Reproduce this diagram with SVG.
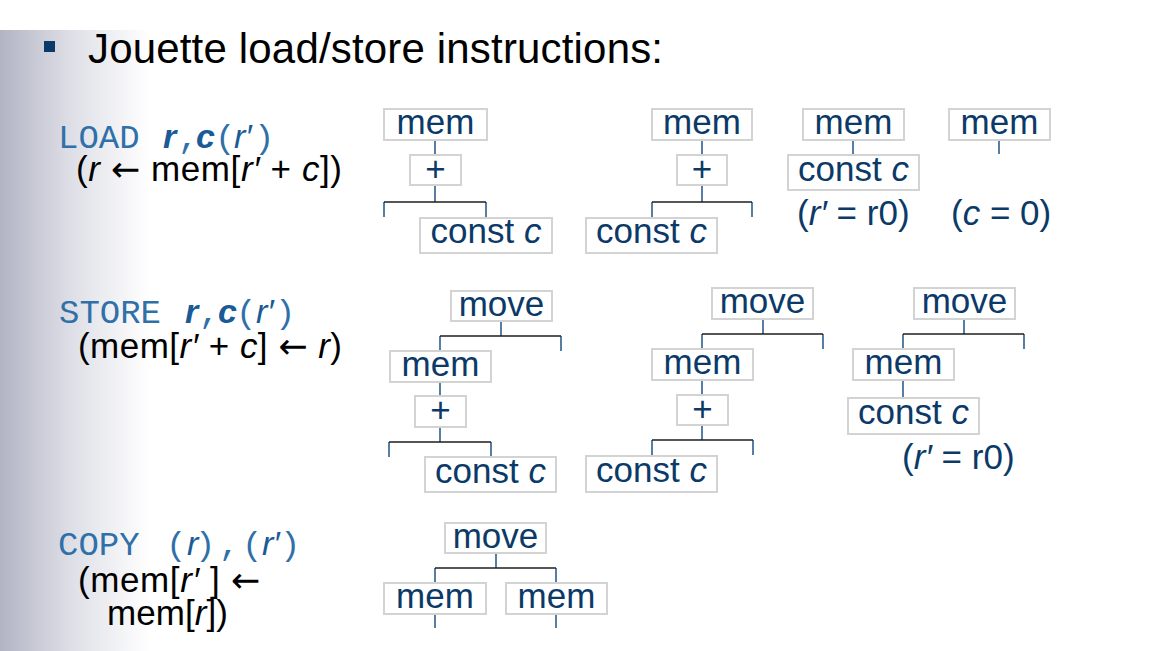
<svg xmlns="http://www.w3.org/2000/svg" width="1156" height="651" viewBox="0 0 1156 651">
<defs>
<linearGradient id="bg" x1="0" y1="0" x2="1" y2="0">
<stop offset="0" stop-color="#b2b4c3"/>
<stop offset="0.5" stop-color="#e0e1e8"/>
<stop offset="1" stop-color="#ffffff"/>
</linearGradient>
</defs>
<style>
.box{fill:#ffffff;stroke:#d3d3d3;stroke-width:2}
.lbl{font-family:"Liberation Sans",Arial,sans-serif;font-size:35px;fill:#0b3a68;text-anchor:middle}
.note{font-family:"Liberation Sans",Arial,sans-serif;font-size:35px;fill:#0b3a68}
.v{stroke:#2e5f8c;stroke-width:1.6;fill:none}
.h{stroke:#1e1e1e;stroke-width:1.6;fill:none}
.mono{font-family:"Liberation Mono","Courier New",monospace;font-size:34px;fill:#3070a8;font-style:normal;font-weight:normal}
.ib{font-family:"Liberation Sans",Arial,sans-serif;font-style:italic;font-weight:bold;fill:#1a5a96}
.ir{font-family:"Liberation Sans",Arial,sans-serif;font-style:italic;font-weight:normal;fill:#1a5a96}
.sig{font-size:34px}
.blk{font-family:"Liberation Sans",Arial,sans-serif;font-size:35px;fill:#000000}
.it{font-style:italic}
.arr{font-family:"DejaVu Sans",sans-serif;font-style:normal}
</style>
<rect x="0" y="0" width="1156" height="651" fill="#ffffff"/>
<rect x="0" y="30" width="150" height="621" fill="url(#bg)"/>

<g id="title">
<rect x="44" y="41" width="11" height="11" fill="#0b3a68"/>
<text x="88" y="63" font-family="Liberation Sans, Arial, sans-serif" font-size="42" fill="#000000" textLength="575">Jouette load/store instructions:</text>
</g>

<g id="load-label">
<text class="sig" y="148"><tspan class="mono" x="58">LOAD</tspan><tspan class="ib" x="163">r</tspan><tspan class="mono" x="178">,</tspan><tspan class="ib" x="196">c</tspan><tspan class="mono" x="215">(</tspan><tspan class="ir" x="234">r′</tspan><tspan class="mono" x="254">)</tspan></text>
<text class="blk" x="76" y="181" textLength="266">(<tspan class="it">r</tspan> <tspan class="arr">←</tspan> mem[<tspan class="it">r′</tspan> + <tspan class="it">c</tspan>])</text>
</g>

<g id="store-label">
<text class="sig" y="323"><tspan class="mono" x="59">STORE</tspan><tspan class="ib" x="185">r</tspan><tspan class="mono" x="199">,</tspan><tspan class="ib" x="218">c</tspan><tspan class="mono" x="236">(</tspan><tspan class="ir" x="256">r′</tspan><tspan class="mono" x="275">)</tspan></text>
<text class="blk" x="78" y="358" textLength="264">(mem[<tspan class="it">r′</tspan> + <tspan class="it">c</tspan>] <tspan class="arr">←</tspan> <tspan class="it">r</tspan>)</text>
</g>

<g id="copy-label">
<text class="sig" y="555"><tspan class="mono" x="166">(</tspan><tspan class="ir" x="187">r</tspan><tspan class="mono" x="195">)</tspan><tspan class="mono" x="219">,</tspan><tspan class="mono" x="242">(</tspan><tspan class="ir" x="262">r′</tspan><tspan class="mono" x="280">)</tspan></text>
<text class="mono" x="58" y="555">COPY</text>
<text class="blk" x="78" y="592" textLength="182">(mem[<tspan class="it">r′</tspan> ] <tspan class="arr">←</tspan></text>
<text class="blk" x="107" y="625" textLength="121">mem[<tspan class="it">r</tspan>])</text>
</g>

<g id="connectors">
<path class="v" d="M435 140V155M435 185V202M384 202V217M486 202V218"/>
<path class="h" d="M384 202H486"/>
<path class="v" d="M702 140V155M702 185V202M652 202V218M752 202V217"/>
<path class="h" d="M652 202H752"/>
<path class="v" d="M853 140V155M999 140V154"/>
<path class="v" d="M501 321V336M440 336V351M561 336V351M440 382V396M440 427V442M389 442V457M491 442V457"/>
<path class="h" d="M440 336H561M389 442H491"/>
<path class="v" d="M763 319V334M702 334V349M823 334V349M702 380V395M702 425V440M652 440V455M753 440V455"/>
<path class="h" d="M702 334H823M652 440H753"/>
<path class="v" d="M964 319V334M903 334V349M1024 334V349M903 380V398"/>
<path class="h" d="M903 334H1024"/>
<path class="v" d="M496 553V568M435 568V583M556 568V583M435 614V628M556 614V628"/>
<path class="h" d="M435 568H556"/>
</g>

<g id="load1">
<g id="load1-mem"><rect class="box" x="384" y="109" width="103" height="31"/><text class="lbl" x="435.5" y="134">mem</text></g>
<g id="load1-plus"><rect class="box" x="410" y="155" width="51" height="30"/><text class="lbl" x="435.5" y="181">+</text></g>
<g id="load1-const"><rect class="box" x="420" y="218" width="132" height="35"/><text class="lbl" x="486" y="243">const <tspan class="it">c</tspan></text></g>
</g>

<g id="load2">
<g id="load2-mem"><rect class="box" x="652" y="109" width="100" height="31"/><text class="lbl" x="702" y="134">mem</text></g>
<g id="load2-plus"><rect class="box" x="677" y="155" width="50" height="30"/><text class="lbl" x="702" y="181">+</text></g>
<g id="load2-const"><rect class="box" x="586" y="218" width="131" height="35"/><text class="lbl" x="651.5" y="243">const <tspan class="it">c</tspan></text></g>
</g>

<g id="load3">
<g id="load3-mem"><rect class="box" x="803" y="109" width="101" height="31"/><text class="lbl" x="853.5" y="134">mem</text></g>
<g id="load3-const"><rect class="box" x="788" y="155" width="131" height="35"/><text class="lbl" x="853.5" y="181">const <tspan class="it">c</tspan></text></g>
<text class="note" x="797" y="225">(<tspan class="it">r′</tspan> = r0)</text>
</g>

<g id="load4">
<g id="load4-mem"><rect class="box" x="949" y="109" width="101" height="31"/><text class="lbl" x="999.5" y="134">mem</text></g>
<text class="note" x="951" y="225">(<tspan class="it">c</tspan> = 0)</text>
</g>

<g id="store1">
<g id="store1-move"><rect class="box" x="451" y="291" width="101" height="30"/><text class="lbl" x="501.5" y="316">move</text></g>
<g id="store1-mem"><rect class="box" x="390" y="351" width="101" height="31"/><text class="lbl" x="440.5" y="376">mem</text></g>
<g id="store1-plus"><rect class="box" x="415" y="396" width="51" height="31"/><text class="lbl" x="440.5" y="422">+</text></g>
<g id="store1-const"><rect class="box" x="425" y="457" width="131" height="35"/><text class="lbl" x="490.5" y="483">const <tspan class="it">c</tspan></text></g>
</g>

<g id="store2">
<g id="store2-move"><rect class="box" x="712" y="288" width="101" height="31"/><text class="lbl" x="762.5" y="313">move</text></g>
<g id="store2-mem"><rect class="box" x="652" y="349" width="101" height="31"/><text class="lbl" x="702.5" y="374">mem</text></g>
<g id="store2-plus"><rect class="box" x="677" y="395" width="51" height="30"/><text class="lbl" x="702.5" y="421">+</text></g>
<g id="store2-const"><rect class="box" x="586" y="456" width="131" height="36"/><text class="lbl" x="651.5" y="482">const <tspan class="it">c</tspan></text></g>
</g>

<g id="store3">
<g id="store3-move"><rect class="box" x="914" y="288" width="101" height="31"/><text class="lbl" x="964.5" y="313">move</text></g>
<g id="store3-mem"><rect class="box" x="853" y="349" width="101" height="31"/><text class="lbl" x="903.5" y="374">mem</text></g>
<g id="store3-const"><rect class="box" x="848" y="398" width="131" height="36"/><text class="lbl" x="913.5" y="424">const <tspan class="it">c</tspan></text></g>
<text class="note" x="902" y="469">(<tspan class="it">r′</tspan> = r0)</text>
</g>

<g id="copy">
<g id="copy-move"><rect class="box" x="445" y="523" width="101" height="30"/><text class="lbl" x="495.5" y="548">move</text></g>
<g id="copy-mem1"><rect class="box" x="384" y="583" width="102" height="31"/><text class="lbl" x="435" y="608">mem</text></g>
<g id="copy-mem2"><rect class="box" x="506" y="583" width="101" height="31"/><text class="lbl" x="556.5" y="608">mem</text></g>
</g>
</svg>
